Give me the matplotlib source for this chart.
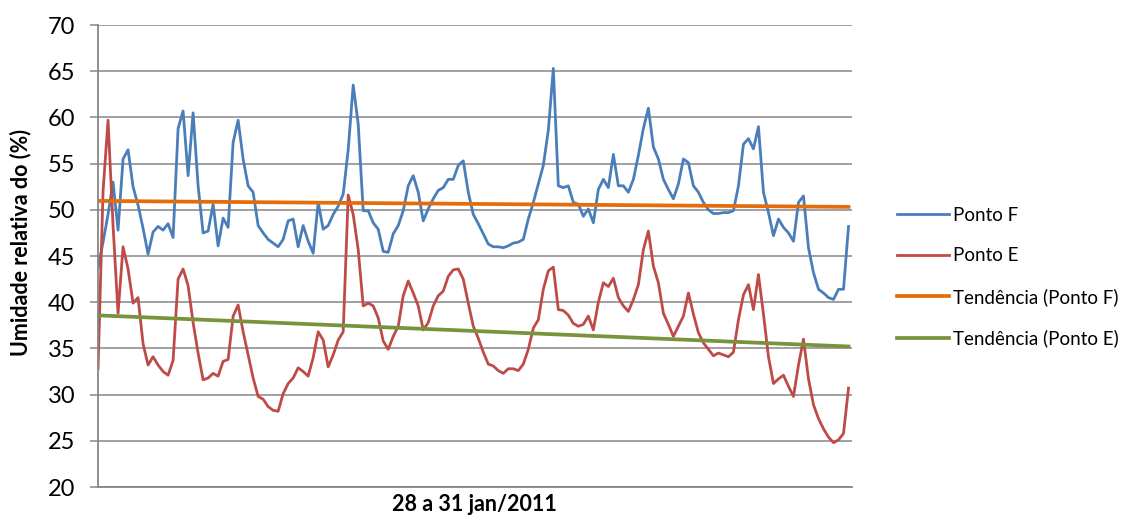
import numpy as np
import matplotlib
matplotlib.use('Agg')
import matplotlib.pyplot as plt

plt.rcParams['font.family'] = ['Lato', 'DejaVu Sans']

# Umidade relativa, leituras de 28 a 31 jan/2011 (intervalos regulares)
ponto_f = [
    43.7, 46.5, 49.5, 53.0, 47.8, 55.5, 56.5, 52.5, 50.5, 48.0,
    45.2, 47.6, 48.2, 47.8, 48.5, 47.0, 58.8, 60.7, 53.7, 60.5,
    52.6, 47.5, 47.7, 50.6, 46.1, 49.1, 48.1, 57.3, 59.7, 55.5,
    52.6, 51.9, 48.3, 47.5, 46.8, 46.4, 46.0, 46.8, 48.8, 49.0,
    46.0, 48.3, 46.6, 45.3, 50.8, 47.9, 48.3, 49.5, 50.4, 51.7,
    56.5, 63.5, 59.3, 49.9, 49.9, 48.6, 47.9, 45.5, 45.4, 47.4,
    48.3, 49.9, 52.6, 53.7, 51.9, 48.8, 50.1, 51.2, 52.1, 52.4,
    53.3, 53.3, 54.8, 55.3, 51.9, 49.5, 48.5, 47.4, 46.3, 46.0,
    46.0, 45.9, 46.1, 46.4, 46.5, 46.8, 49.0, 50.8, 52.8, 54.8,
    58.6, 65.3, 52.6, 52.4, 52.6, 50.8, 50.6, 49.3, 50.1, 48.6,
    52.2, 53.3, 52.4, 56.0, 52.6, 52.6, 51.9, 53.3, 55.9, 58.8,
    61.0, 56.8, 55.5, 53.3, 52.2, 51.2, 52.8, 55.5, 55.1, 52.6,
    51.9, 50.8, 50.0, 49.6, 49.6, 49.7, 49.7, 49.9, 52.6, 57.1,
    57.7, 56.6, 59.0, 51.9, 49.7, 47.2, 49.0, 48.1, 47.5, 46.6,
    50.8, 51.5, 45.9, 43.2, 41.4, 41.0, 40.5, 40.3, 41.4, 41.4,
    48.2,
]

ponto_e = [
    32.8, 52.0, 59.7, 48.3, 38.8, 46.0, 43.6, 39.9, 40.5, 35.5,
    33.2, 34.1, 33.2, 32.5, 32.1, 33.7, 42.5, 43.6, 41.8, 37.8,
    34.5, 31.6, 31.8, 32.3, 32.0, 33.6, 33.8, 38.5, 39.7, 36.8,
    34.3, 31.8, 29.8, 29.5, 28.7, 28.3, 28.2, 30.1, 31.2, 31.8,
    32.9, 32.5, 32.0, 34.0, 36.8, 35.9, 33.0, 34.3, 35.9, 36.8,
    51.6, 49.5, 45.7, 39.6, 39.9, 39.6, 38.3, 35.8, 34.9, 36.3,
    37.4, 40.7, 42.3, 41.0, 39.6, 37.0, 37.8, 39.6, 40.7, 41.2,
    42.8, 43.5, 43.6, 42.5, 39.9, 37.4, 36.1, 34.6, 33.3, 33.1,
    32.6, 32.3, 32.8, 32.8, 32.6, 33.3, 34.9, 37.2, 38.1, 41.4,
    43.4, 43.8, 39.2, 39.1, 38.6, 37.7, 37.4, 37.6, 38.5, 37.0,
    40.0, 42.1, 41.7, 42.6, 40.5, 39.6, 39.0, 40.3, 41.9, 45.7,
    47.7, 43.9, 42.1, 38.8, 37.6, 36.3, 37.4, 38.5, 41.0, 38.7,
    36.7, 35.6, 34.9, 34.2, 34.5, 34.3, 34.1, 34.6, 38.1, 40.8,
    41.9, 39.2, 43.0, 38.7, 34.1, 31.2, 31.7, 32.1, 30.9, 29.8,
    33.2, 36.0, 31.7, 28.9, 27.4, 26.3, 25.4, 24.8, 25.1, 25.8,
    30.7,
]

y_ticks = [20, 25, 30, 35, 40, 45, 50, 55, 60, 65, 70]

x = np.arange(len(ponto_f))

# linhas de tendência lineares (mínimos quadrados)
coef_f = np.polyfit(x, ponto_f, 1)
coef_e = np.polyfit(x, ponto_e, 1)

fig = plt.figure(figsize=(11.25, 5.17), dpi=100)
ax = fig.add_axes([0.0867, 0.058, 0.6702, 0.8936])

grid_color = '#868686'
ax.set_ylim(20, 70)
ax.set_yticks(y_ticks)
ax.set_xlim(-0.1, len(x) - 1 + 0.6)
ax.set_xticks([])
ax.yaxis.grid(True, color=grid_color, linewidth=1.1)
ax.set_axisbelow(True)

for side in ['top', 'right']:
    ax.spines[side].set_visible(False)
for side in ['left', 'bottom']:
    ax.spines[side].set_color(grid_color)
    ax.spines[side].set_linewidth(1.3)
ax.tick_params(axis='y', direction='out', length=6, width=1.1, color=grid_color,
               labelsize=17, pad=10)

ax.plot(x, ponto_f, color='#4A7EBB', linewidth=2.0, label='Ponto F')
ax.plot(x, ponto_e, color='#BE4B48', linewidth=2.0, label='Ponto E')
ax.plot(x, np.polyval(coef_f, x), color='#E46C0A', linewidth=2.7,
        label='Tendência (Ponto F)')
ax.plot(x, np.polyval(coef_e, x), color='#77933C', linewidth=2.7,
        label='Tendência (Ponto E)')

ax.set_ylabel('Umidade relativa do (%)', fontsize=15.5, fontweight='bold')
ax.yaxis.set_label_coords(-0.088, 0.53)
fig.text(0.4214, 2 / 517, '28 a 31 jan/2011', ha='center', va='bottom',
         fontsize=15.5, fontweight='bold')

fig.legend(loc='center left', bbox_to_anchor=(0.782, 1 - 277 / 517),
           frameon=False, fontsize=13.5, handlelength=2.8, handletextpad=0.2,
           labelspacing=1.25)

fig.savefig('out.png', dpi=100)
